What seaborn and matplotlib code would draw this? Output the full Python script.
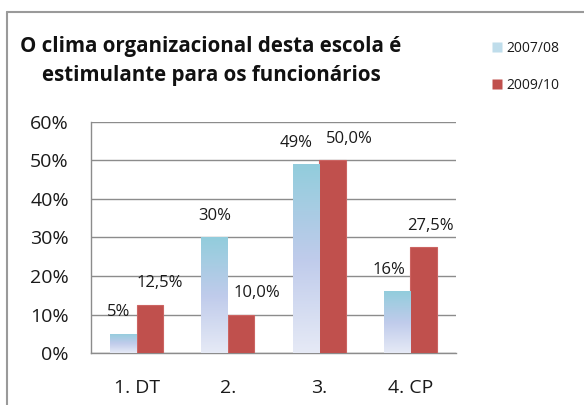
import numpy as np
import pandas as pd
import matplotlib
matplotlib.use("Agg")
import matplotlib.pyplot as plt
from matplotlib.lines import Line2D
from matplotlib.colors import LinearSegmentedColormap
import seaborn as sns

# Survey results: share of agreement per group, two school years
categories = ["1. DT", "2.", "3.", "4. CP"]
series_names = ["2007/08", "2009/10"]
values_0708 = [5, 30, 49, 16]
values_0910 = [12.5, 10.0, 50.0, 27.5]
labels_0708 = ["5%", "30%", "49%", "16%"]
labels_0910 = ["12,5%", "10,0%", "50,0%", "27,5%"]
y_ticks = [0, 10, 20, 30, 40, 50, 60]

title = "O clima organizacional desta escola é\nestimulante para os funcionários"

df = pd.DataFrame({
    "categoria": categories * 2,
    "ano": [series_names[0]] * 4 + [series_names[1]] * 4,
    "valor": values_0708 + values_0910,
})

sns.set_theme(style="white")
plt.rcParams["font.family"] = ["Open Sans", "DejaVu Sans"]

RED = "#C0504D"
BLUE_TOP = "#92CDDC"
GRID = "#8C8C8C"
TEXT = "#1a1a1a"

fig = plt.figure(figsize=(5.84, 4.05), dpi=100)
ax = fig.add_axes([91 / 584, 52 / 405, 365 / 584, 231 / 405])

sns.barplot(data=df, x="categoria", y="valor", hue="ano",
            palette=[BLUE_TOP, RED], width=0.58, ax=ax,
            legend=False, saturation=1, linewidth=0, zorder=3)

ax.set_ylim(0, 60)
ax.set_xlim(-0.5, 3.5)
ax.set_yticks(y_ticks)
ax.set_yticklabels([f"{t}%" for t in y_ticks])
ax.yaxis.grid(True, color=GRID, linewidth=1.0, zorder=0)
ax.set_axisbelow(True)
ax.set_xlabel("")
ax.set_ylabel("")
for side in ["top", "right"]:
    ax.spines[side].set_visible(False)
for side in ["left", "bottom"]:
    ax.spines[side].set_color(GRID)
    ax.spines[side].set_linewidth(1.0)
ax.tick_params(axis="y", length=0, pad=16, labelsize=14, colors=TEXT)
ax.tick_params(axis="x", length=0, pad=19, labelsize=14, colors=TEXT)

# Vertical gradient fill on the first series' bars
grad_cmap = LinearSegmentedColormap.from_list(
    "grad", ["#E6EAF6", "#BFCBEB", "#92CDDC"])
grad = np.linspace(0, 1, 256).reshape(-1, 1)
blue_bars = ax.containers[0]
red_bars = ax.containers[1]
for patch in blue_bars.patches:
    x0, y0 = patch.get_x(), patch.get_y()
    w, h = patch.get_width(), patch.get_height()
    patch.set_facecolor("none")
    patch.set_edgecolor("none")
    im = ax.imshow(grad, cmap=grad_cmap, aspect="auto", origin="lower",
                   extent=[x0, x0 + w, y0, y0 + h], zorder=3,
                   interpolation="bilinear")
    im.set_clip_path(patch)
for patch in red_bars.patches:
    patch.set_edgecolor("#CC6462")
    patch.set_linewidth(0.8)
ax.set_xlim(-0.5, 3.5)
ax.set_ylim(0, 60)

# Value labels above each bar (small horizontal nudges keep them apart)
dx_0708 = [-5, 0, -10, -8]
dx_0910 = [10, 16, 17, 7]
for patches, labels, dxs in [(blue_bars.patches, labels_0708, dx_0708),
                             (red_bars.patches, labels_0910, dx_0910)]:
    for p, lab, dx in zip(patches, labels, dxs):
        ax.annotate(lab, (p.get_x() + p.get_width() / 2, p.get_height()),
                    xytext=(dx * 0.72, 15.5), textcoords="offset points",
                    ha="center", va="center", fontsize=12,
                    color=TEXT, zorder=5)

# Title
fig.text(211 / 584, 1 - 61 / 405, title, ha="center", va="center",
         fontsize=14.8, fontweight="bold", color="#111111",
         linespacing=1.5)

# Legend at the upper right
handles = [
    Line2D([], [], marker="s", linestyle="none", markersize=6.5,
           markerfacecolor="#BFDDEB", markeredgecolor="none"),
    Line2D([], [], marker="s", linestyle="none", markersize=6.5,
           markerfacecolor=RED, markeredgecolor="none"),
]
fig.legend(handles, series_names, loc="upper left",
           bbox_to_anchor=(486 / 584, 1 - 35 / 405), frameon=False,
           fontsize=10, handlelength=0.8, handletextpad=0.3,
           labelspacing=1.6, borderaxespad=0, labelcolor=TEXT)

# Chart frame (open to the right and bottom edges)
fig.add_artist(Line2D([7 / 584, 7 / 584], [0, 1 - 12 / 405],
                      transform=fig.transFigure, color="#9A9A9A", lw=1.5))
fig.add_artist(Line2D([7 / 584, 1], [1 - 12 / 405, 1 - 12 / 405],
                      transform=fig.transFigure, color="#9A9A9A", lw=1.5))

fig.savefig("out.png", dpi=100)
